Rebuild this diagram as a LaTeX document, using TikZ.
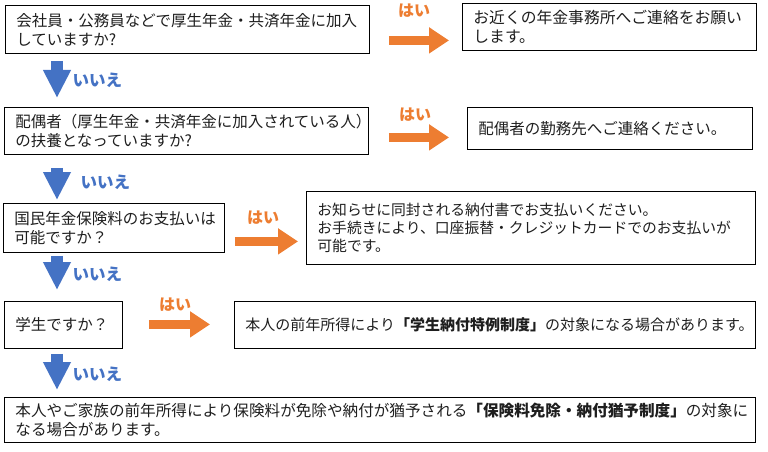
\documentclass[tikz,border=0pt]{standalone}
\usepackage{fontspec}
\setmainfont{Noto Sans CJK JP}
\definecolor{yesorange}{RGB}{237, 125, 49}
\definecolor{noblue}{RGB}{68, 114, 196}
\definecolor{textgray}{RGB}{30, 30, 30}
\usetikzlibrary{arrows.meta, calc}

\tikzset{
  qbox/.style={draw, line width=0.8pt, anchor=north west, align=left, inner xsep=11pt, inner ysep=2pt, text=textgray, font=\fontsize{15.5}{19}\selectfont},
  abox/.style={qbox, font=\fontsize{15.8}{19}\selectfont},
  yesarrow/.style={draw=yesorange, line width=9pt, -{Triangle[width=25pt, length=20pt]}},
  noarrow/.style={draw=noblue, line width=12pt, -{Triangle[width=26pt, length=28pt]}},
  yeslabel/.style={font=\fontsize{16}{16}\selectfont\bfseries, text=yesorange},
  nolabel/.style={font=\fontsize{16.5}{16.5}\selectfont\bfseries, text=noblue, anchor=west}
}

\begin{document}
\begin{tikzpicture}[x=1pt, y=-1pt]
  \useasboundingbox (0, 0) rectangle (768, 452);

  % questions
  \node[qbox, text width=342pt, minimum height=48pt] (q1) at (5, 5) {会社員・公務員などで厚生年金・共済年金に加入\\していますか?};
  \node[qbox, text width=342pt, minimum height=47pt] (q2) at (4, 107) {配偶者（厚生年金・共済年金に加入されている人）\\の扶養となっていますか?};
  \node[qbox, text width=199pt, minimum height=49pt] (q3) at (3, 203) {国民年金保険料のお支払いは\\可能ですか？};
  \node[qbox, text width=96pt, minimum height=47pt] (q4) at (4, 301) {学生ですか？};
  \node[qbox, text width=729pt, minimum height=45pt, font=\fontsize{15.6}{19}\selectfont] (q5) at (4, 397) {本人やご家族の前年所得により保険料が免除や納付が猶予される{\bfseries 「保険料免除・納付猶予制度」}の対象に\\なる場合があります。};

  % answers
  \node[abox, text width=272pt, minimum height=47pt] (a1) at (462, 3) {お近くの年金事務所へご連絡をお願い\\します。};
  \node[abox, text width=263pt, minimum height=42pt, font=\fontsize{15.5}{19}\selectfont] (a2) at (467, 107) {配偶者の勤務先へご連絡ください。};
  \node[abox, text width=427pt, minimum height=73pt, font=\fontsize{14.8}{18}\selectfont] (a3) at (306, 191) {お知らせに同封される納付書でお支払いください。\\お手続きにより、口座振替・クレジットカードでのお支払いが\\可能です。};
  \node[abox, text width=499pt, minimum height=47pt, font=\fontsize{15}{18}\selectfont] (a4) at (234, 301) {本人の前年所得により{\bfseries 「学生納付特例制度」}の対象になる場合があります。};

  % yes arrows
  \draw[yesarrow] ($(q1.east)+(19, 11)$) -- ($(a1.west)+(-13, 13.5)$);
  \draw[yesarrow] ($(q2.east)+(20, 6.5)$) -- ($(a2.west)+(-18, 9)$);
  \draw[yesarrow] ($(q3.east)+(10, 13.5)$) -- ($(a3.west)+(-8, 13.5)$);
  \draw[yesarrow] ($(q4.east)+(26, -0.5)$) -- ($(a4.west)+(-24, -0.5)$);
  \node[yeslabel] (y1) at (414, 11) {はい};
  \node[yeslabel] (y2) at (415, 115) {はい};
  \node[yeslabel] (y3) at (263, 218) {はい};
  \node[yeslabel] (y4) at (175, 305) {はい};

  % no arrows
  \draw[noarrow] ($(q1.south west)+(52, 7)$) -- ($(q2.north west)+(53, -9)$);
  \draw[noarrow] ($(q2.south west)+(53, 13)$) -- ($(q3.north west)+(54, -3)$);
  \draw[noarrow] ($(q3.south west)+(54, 3)$) -- ($(q4.north west)+(53, -11)$);
  \draw[noarrow] ($(q4.south west)+(53, 5)$) -- ($(q5.north west)+(53, -7)$);
  \node[nolabel] (n1) at (69, 80) {いいえ};
  \node[nolabel] (n2) at (77, 182) {いいえ};
  \node[nolabel] (n3) at (69, 274) {いいえ};
  \node[nolabel] (n4) at (69, 374) {いいえ};
\end{tikzpicture}
\end{document}
